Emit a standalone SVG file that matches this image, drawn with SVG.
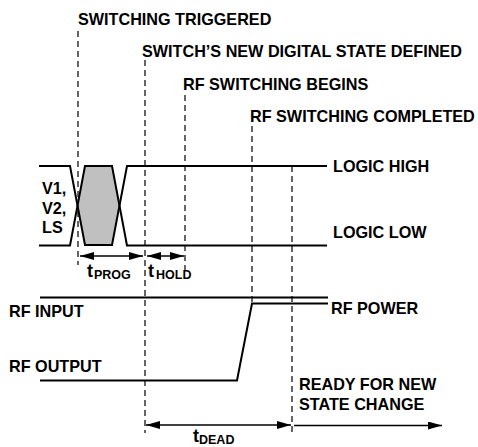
<svg xmlns="http://www.w3.org/2000/svg" width="478" height="447" viewBox="0 0 478 447">
<style>
text{font-family:"Liberation Sans",Arial,sans-serif;font-weight:bold;font-size:16.2px;fill:#000}
.sub{font-size:12.5px}
.t{font-size:18px}
.sig{fill:none;stroke:#000;stroke-width:2}
.dash{fill:none;stroke:#000;stroke-width:1.2;stroke-dasharray:6 4}
.dim{fill:none;stroke:#000;stroke-width:1.5}
</style>
<defs>
<marker id="ah" viewBox="0 0 14 8" refX="14" refY="4" markerWidth="14" markerHeight="8" markerUnits="userSpaceOnUse" orient="auto-start-reverse">
<path d="M0,0 L14,4 L0,8 Z" fill="#000"/>
</marker>
</defs>
<rect width="478" height="447" fill="#fff"/>
<g id="connectors">
<line class="dash" x1="78" y1="31" x2="78" y2="265"/>
<line class="dash" x1="145" y1="60" x2="145" y2="433"/>
<line class="dash" x1="185" y1="95" x2="185" y2="270"/>
<line class="dash" x1="252" y1="126" x2="252" y2="302"/>
<line class="dash" x1="292" y1="166" x2="292" y2="434"/>
<line class="dim" x1="80" y1="256" x2="143" y2="256" marker-start="url(#ah)" marker-end="url(#ah)"/>
<line class="dim" x1="147" y1="256" x2="184" y2="256" marker-start="url(#ah)" marker-end="url(#ah)"/>
<line class="dim" x1="146" y1="425" x2="291" y2="425" marker-start="url(#ah)" marker-end="url(#ah)"/>
<line class="dim" x1="294" y1="425.5" x2="442" y2="425.5" marker-end="url(#ah)"/>
</g>
<g id="labels-top">
<text x="78" y="25">SWITCHING TRIGGERED</text>
<text x="142" y="57">SWITCH’S NEW DIGITAL STATE DEFINED</text>
<text x="183" y="90">RF SWITCHING BEGINS</text>
<text x="250" y="122">RF SWITCHING COMPLETED</text>
</g>
<g id="logic">
<polygon points="85,166 112,166 119.5,205.5 112,245 85,245 78,205.5" fill="#c0c0c0"/>
<polyline class="sig" points="39,166 70,166 85,245 112,245 127,166 327,166"/>
<polyline class="sig" points="39,245.5 70,245.5 85,166 112,166 127,245.5 327,245.5"/>
<text x="42" y="194">V1,</text>
<text x="42" y="213.5">V2,</text>
<text x="42" y="232.5">LS</text>
<text x="333" y="172">LOGIC HIGH</text>
<text x="333" y="238">LOGIC LOW</text>
</g>
<g id="tprog">
<text x="87" y="277" class="t">t</text><text x="94" y="279" class="sub">PROG</text>
</g>
<g id="thold">
<text x="148" y="277" class="t">t</text><text x="156" y="279" class="sub">HOLD</text>
</g>
<g id="rf">
<line class="sig" x1="40" y1="297.5" x2="328" y2="297.5"/>
<polyline class="sig" points="40,380.5 237,380.5 252,303.5 328,303.5"/>
<text x="9" y="317">RF INPUT</text>
<text x="9" y="372">RF OUTPUT</text>
<text x="331" y="314">RF POWER</text>
<text x="299" y="390">READY FOR NEW</text>
<text x="299" y="410">STATE CHANGE</text>
</g>
<g id="tdead">
<text x="193" y="442" class="t">t</text><text x="199" y="444" class="sub">DEAD</text>
</g>
</svg>
